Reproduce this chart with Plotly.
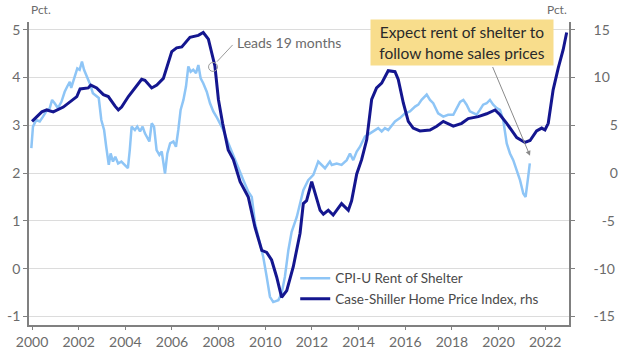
import plotly.graph_objects as go

# CPI-U Rent of Shelter (left axis, pct)
rent_x = [1999.97, 2000.04, 2000.18, 2000.33, 2000.47, 2000.61, 2000.76, 2000.86, 2000.97, 2001.11,
          2001.26, 2001.40, 2001.51, 2001.62, 2001.68, 2001.83, 2001.94, 2002.04, 2002.14, 2002.23,
          2002.33, 2002.47, 2002.61, 2002.76, 2002.86, 2002.97, 2003.09, 2003.18, 2003.29, 2003.37,
          2003.47, 2003.57, 2003.69, 2003.83, 2003.97, 2004.11, 2004.19, 2004.27, 2004.41, 2004.51,
          2004.63, 2004.74, 2004.84, 2004.94, 2005.03, 2005.13, 2005.23, 2005.34, 2005.46, 2005.56,
          2005.70, 2005.80, 2005.92, 2006.06, 2006.17, 2006.27, 2006.37, 2006.49, 2006.60, 2006.70,
          2006.80, 2006.91, 2007.03, 2007.13, 2007.23, 2007.34, 2007.49, 2007.63, 2007.77, 2007.94,
          2008.06, 2008.20, 2008.35, 2008.49, 2008.63, 2008.77, 2009.06, 2009.27, 2009.42, 2009.56,
          2009.77, 2009.91, 2010.06, 2010.20, 2010.34, 2010.56, 2010.70, 2010.84, 2010.99, 2011.13,
          2011.35, 2011.49, 2011.63, 2011.84, 2012.06, 2012.27, 2012.42, 2012.56, 2012.77, 2012.85,
          2013.06, 2013.27, 2013.49, 2013.63, 2013.77, 2013.92, 2014.06, 2014.27, 2014.49, 2014.63,
          2014.84, 2014.99, 2015.13, 2015.27, 2015.42, 2015.56, 2015.77, 2015.99, 2016.20, 2016.42,
          2016.56, 2016.70, 2016.92, 2017.06, 2017.20, 2017.41, 2017.63, 2017.84, 2018.06, 2018.20,
          2018.35, 2018.49, 2018.63, 2018.77, 2018.92, 2019.06, 2019.20, 2019.34, 2019.49, 2019.63,
          2019.77, 2019.92, 2020.06, 2020.20, 2020.35, 2020.49, 2020.63, 2020.78, 2020.92, 2021.06,
          2021.16, 2021.27, 2021.34]
rent_y = [2.52, 2.97, 3.11, 3.08, 3.18, 3.29, 3.36, 3.53, 3.46, 3.36,
          3.49, 3.70, 3.81, 3.91, 3.78, 4.05, 4.19, 4.16, 4.33, 4.16,
          4.05, 3.88, 3.67, 3.60, 3.57, 3.11, 2.90, 2.55, 2.17, 2.41,
          2.24, 2.34, 2.20, 2.24, 2.17, 2.10, 2.48, 2.97, 2.90, 2.97,
          2.87, 2.97, 2.83, 2.73, 2.66, 3.04, 2.97, 2.48, 2.38, 2.45,
          1.99, 2.41, 2.62, 2.66, 2.55, 2.90, 3.32, 3.53, 3.81, 4.23,
          4.12, 4.16, 4.09, 4.26, 3.98, 3.88, 3.70, 3.46, 3.29, 3.15,
          3.04, 2.90, 2.70, 2.52, 2.38, 2.20, 1.85, 1.61, 1.50, 0.95,
          0.53, 0.25, -0.17, -0.59, -0.70, -0.66, -0.52, -0.17, 0.39, 0.77,
          1.08, 1.36, 1.64, 1.85, 1.96, 2.24, 2.17, 2.10, 2.24, 2.17,
          2.20, 2.17, 2.27, 2.41, 2.27, 2.45, 2.55, 2.76, 2.83, 2.87,
          2.94, 2.87, 2.94, 2.90, 3.00, 3.08, 3.15, 3.25, 3.29, 3.39,
          3.43, 3.53, 3.64, 3.53, 3.46, 3.25, 3.18, 3.22, 3.22, 3.36,
          3.49, 3.53, 3.43, 3.29, 3.25, 3.22, 3.32, 3.43, 3.46, 3.53,
          3.43, 3.36, 3.32, 3.11, 2.62, 2.41, 2.27, 2.06, 1.85, 1.57,
          1.50, 1.92, 2.20]

# Case-Shiller Home Price Index (right axis, pct)
cs_x = [2000.00, 2000.42, 2000.63, 2000.91, 2001.34, 2001.92, 2002.06, 2002.41, 2002.52, 2002.77,
        2003.06, 2003.27, 2003.56, 2003.70, 2003.84, 2004.13, 2004.70, 2004.84, 2005.13, 2005.35,
        2005.63, 2005.99, 2006.20, 2006.42, 2006.77, 2007.13, 2007.34, 2007.56, 2007.84, 2007.99,
        2008.17, 2008.41, 2008.63, 2008.92, 2009.27, 2009.56, 2009.85, 2010.06, 2010.27, 2010.49,
        2010.70, 2010.92, 2011.20, 2011.49, 2011.63, 2011.77, 2011.99, 2012.20, 2012.35, 2012.49,
        2012.70, 2012.91, 2013.27, 2013.56, 2013.70, 2013.92, 2014.13, 2014.35, 2014.56, 2014.77,
        2014.99, 2015.27, 2015.56, 2015.70, 2015.92, 2016.13, 2016.34, 2016.63, 2017.06, 2017.35,
        2017.63, 2018.06, 2018.42, 2018.70, 2019.13, 2019.49, 2019.85, 2020.06, 2020.35, 2020.78,
        2021.13, 2021.35, 2021.63, 2021.85, 2021.99, 2022.13, 2022.34, 2022.56, 2022.77, 2022.92]
cs_y = [5.4, 6.4, 6.6, 6.4, 6.9, 8.0, 8.8, 8.9, 9.2, 8.9,
        8.2, 8.0, 7.0, 6.6, 6.9, 8.0, 9.8, 9.7, 8.9, 9.2,
        9.9, 12.7, 13.1, 13.2, 14.2, 14.4, 14.7, 14.0, 11.2, 7.7,
        5.2, 2.4, 1.4, -0.9, -2.5, -5.7, -8.1, -8.3, -9.1, -10.9,
        -13.0, -12.3, -9.8, -6.3, -3.2, -2.9, -0.9, -2.5, -3.9, -4.3,
        -3.9, -4.4, -3.2, -3.9, -2.9, -0.1, 1.4, 3.5, 7.7, 8.9,
        9.4, 10.7, 10.6, 9.8, 7.3, 5.4, 4.7, 4.4, 4.5, 4.9,
        5.4, 4.9, 5.2, 5.7, 5.9, 6.2, 6.6, 6.1, 5.2, 3.7,
        3.2, 3.4, 4.4, 4.7, 4.5, 5.2, 8.7, 11.0, 12.9, 14.7]

x_ticks = [2000, 2002, 2004, 2006, 2008, 2010, 2012, 2014, 2016, 2018, 2020, 2022]
left_ticks = [-1, 0, 1, 2, 3, 4, 5]
right_ticks = [-15, -10, -5, 0, 5, 10, 15]
right_ticktext = ["-15", "-10", "\u2007-5", "\u2007\u20070", "\u2007\u20075", "10", "15"]

FONT = "Lato"
LIGHT = "#8ec5f6"
DARK = "#14168f"
GRAY = "#6b6b6b"

fig = go.Figure()
fig.add_trace(go.Scatter(x=rent_x, y=rent_y, mode="lines", name="CPI-U Rent of Shelter",
                         line=dict(color=LIGHT, width=2.5), yaxis="y"))
fig.add_trace(go.Scatter(x=cs_x, y=cs_y, mode="lines", name="Case-Shiller Home Price Index, rhs",
                         line=dict(color=DARK, width=3), yaxis="y2"))

fig.update_layout(
    width=620, height=351,
    margin=dict(l=29, r=51, t=22, b=26),
    paper_bgcolor="white", plot_bgcolor="white",
    font=dict(family=FONT, size=14, color=GRAY),
    showlegend=True,
    legend=dict(x=0.493, y=0.205, xanchor="left", yanchor="top", bgcolor="rgba(0,0,0,0)",
                font=dict(size=13.5, color="#4a4a4a"), tracegroupgap=0, itemwidth=30),
    xaxis=dict(range=[1999.87, 2023.02], tickvals=x_ticks, ticktext=[str(t) for t in x_ticks],
               showgrid=False, zeroline=False, showline=True, linecolor="#808080", linewidth=1.5,
               ticks="outside", ticklen=3, tickcolor="#808080", ticklabelstandoff=0,
               automargin=False, tickfont=dict(size=14, color=GRAY)),
    yaxis=dict(range=[-1.18, 5.16], tickvals=left_ticks, ticktext=[str(t) for t in left_ticks],
               showgrid=True, gridcolor="#dcdcdc", gridwidth=1, zeroline=False,
               showline=True, linecolor="#808080", linewidth=1.5,
               ticks="outside", ticklen=4, tickcolor="#808080", automargin=False,
               tickfont=dict(size=14, color=GRAY)),
    yaxis2=dict(range=[-15.9, 15.8], overlaying="y", side="right", tickvals=right_ticks,
                ticktext=right_ticktext, showgrid=False, zeroline=False,
                showline=True, linecolor="#808080", linewidth=1.5,
                ticks="outside", ticklen=4, tickcolor="#808080", ticklabelstandoff=16,
                automargin=False, tickfont=dict(size=14, color=GRAY)),
)

# axis unit labels
fig.add_annotation(text="Pct.", xref="paper", yref="paper", x=0.0, y=1.0, xanchor="left",
                   yanchor="bottom", yshift=3, showarrow=False, font=dict(size=12, color=GRAY))
fig.add_annotation(text="Pct.", xref="paper", yref="paper", x=1.0, y=1.0, xanchor="right",
                   yanchor="bottom", yshift=3, showarrow=False, font=dict(size=12, color=GRAY))

# "Leads 19 months" callout
fig.add_shape(type="circle", xref="x", yref="y", xsizemode="pixel", ysizemode="pixel",
              xanchor=2007.76, yanchor=4.22, x0=-4.5, x1=4.5, y0=-4.5, y1=4.5,
              line=dict(color="#9a9a9a", width=1))
fig.add_shape(type="line", xref="x", yref="y", x0=2007.93, y0=4.33, x1=2008.6, y1=4.68,
              line=dict(color="#9a9a9a", width=1))
fig.add_annotation(text="Leads 19 months", xref="x", yref="y", x=2008.72, y=4.74,
                   xanchor="left", yanchor="middle", showarrow=False,
                   font=dict(size=14, color=GRAY))

# yellow box + arrow
fig.add_annotation(text="", xref="x", yref="y", axref="x", ayref="y",
                   x=2021.35, y=2.36, ax=2019.72, ay=4.25, showarrow=True,
                   arrowhead=2, arrowsize=1, arrowwidth=1, arrowcolor="#8a8a8a")
fig.add_annotation(text="Expect rent of shelter to<br>follow home sales prices",
                   xref="paper", yref="paper", x=0.801, y=0.932, xanchor="center", yanchor="middle",
                   showarrow=False, bgcolor="#f8dd8c", width=174, height=37, borderpad=4,
                   font=dict(size=15.5, color="#2a2a2a"))

fig.write_html("out.html")
